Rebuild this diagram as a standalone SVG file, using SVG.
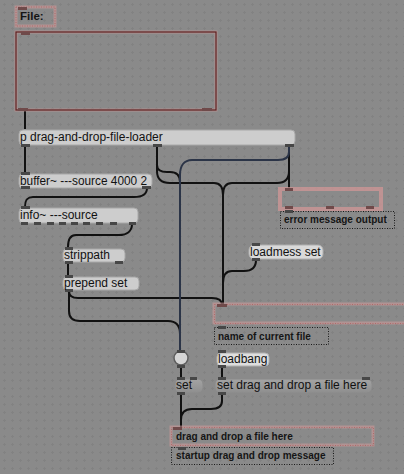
<svg xmlns="http://www.w3.org/2000/svg" width="404" height="474" viewBox="0 0 404 474">
<defs>
<pattern id="grid" width="8" height="8" patternUnits="userSpaceOnUse">
<rect width="8" height="8" fill="#8a8a8a"/>
<rect x="4" y="3" width="1" height="3" fill="#828282"/>
<rect x="3" y="4" width="3" height="1" fill="#828282"/>
</pattern>
<linearGradient id="msg" x1="0" y1="0" x2="0" y2="1">
<stop offset="0" stop-color="#a4a4a4"/>
<stop offset="1" stop-color="#8e8e8e"/>
</linearGradient>
<style>
.obj{fill:#cdcdcd;stroke:#a8a8a8;stroke-width:1}
.lite{fill:#d9d9d9;stroke:#b0b0b0;stroke-width:1}
.msg{fill:url(#msg);stroke:#8a8a8a;stroke-width:1}
.t{font-family:"Liberation Sans",Arial,sans-serif;font-size:12px;fill:#111}
.c{font-family:"Liberation Sans",Arial,sans-serif;font-size:10px;font-weight:bold;fill:#151515}
.tab{fill:#474747}
.ptab{fill:#6f4a4a}
.cmt{fill:none;stroke:#1a1a1a;stroke-width:1;stroke-dasharray:1 1.5}
.glow{fill:none;stroke:#d49a9a;stroke-width:3;opacity:.55}
.pdot{fill:none;stroke:#b06a6a;stroke-width:1;stroke-dasharray:1 1.5}
.wire{fill:none;stroke:#111;stroke-width:2}
.navy{fill:none;stroke:#2b3447;stroke-width:2}
</style>
</defs>
<rect width="404" height="474" fill="url(#grid)"/>

<g id="connectors">
<path class="wire" d="M25,111 V129"/>
<path class="wire" d="M25,146 V173"/>
<path class="wire" d="M147,188 C147,195 142,197 134,197 H33 C27,197 25,200 25,207"/>
<path class="wire" d="M132,224 C132,231 127,235 119,235 H76 C70,235 68,240 68,247"/>
<path class="wire" d="M68,263 V276"/>
<path class="wire" d="M69,291 C69,296 72,298 78,298 H212 C219,298 222,300 222,305"/>
<path class="wire" d="M69,291 V311 C69,318 73,321 80,321 H168 C176,321 180,326 180,334 V350"/>
<path class="wire" d="M157,146 V165 C157,170 161,172 167,172 H170 C176,172 180,175 180,182 V350"/>
<path class="wire" d="M157,146 V171 C157,179 161,183 170,183 H214 C220,183 223,187 223,195"/>
<path class="wire" d="M289,146 V171 C289,179 285,183 277,183 H232 C226,183 223,187 223,195"/>
<path class="wire" d="M223,194 V305"/>
<path class="wire" d="M256,260 C256,267 252,271 244,271 H232 C226,271 223,275 223,283"/>
<path class="wire" d="M289,146 V190"/>
<path class="wire" d="M181,366 V378"/>
<path class="wire" d="M222,366 V377"/>
<path class="wire" d="M181,394 V427"/>
<path class="wire" d="M222,394 V401 C222,407 218,409 211,409 H192 C185,409 181,413 181,420"/>
<path class="navy" d="M289,147 V152 C289,158 285,160 278,160 H192 C184,160 180,166 180,175 V351"/>
</g>

<g id="file-label">
<rect class="glow" x="16" y="7" width="39" height="19"/>
<rect class="pdot" x="16" y="7" width="39" height="19"/>
<rect class="ptab" x="18" y="7" width="9" height="3"/>
<text x="20" y="20" class="c" style="font-size:11.5px">File:</text>
</g>

<g id="dropfile">
<rect x="16" y="32" width="200" height="78" fill="none" stroke="#d49a9a" stroke-width="3" opacity=".5"/>
<rect x="16" y="32" width="200" height="78" fill="none" stroke="#5a1e1e" stroke-width="1.2"/>
<rect class="ptab" x="21" y="32" width="9" height="3"/>
<rect class="ptab" x="18" y="108" width="10" height="3"/>
<rect class="ptab" x="202" y="108" width="10" height="3"/>
</g>

<g id="p-loader">
<rect class="obj" x="19" y="130" width="276" height="15" rx="4"/>
<rect class="tab" x="21" y="144" width="9" height="3"/>
<rect class="tab" x="153" y="144" width="9" height="3"/>
<rect class="tab" x="285" y="144" width="9" height="3"/>
<text x="20" y="141" class="t">p drag-and-drop-file-loader</text>
</g>

<g id="buffer">
<rect class="obj" x="19" y="174" width="133" height="14" rx="4"/>
<rect class="tab" x="21" y="172" width="9" height="3"/>
<rect class="tab" x="21" y="186" width="9" height="3"/>
<rect class="tab" x="142" y="186" width="9" height="3"/>
<text x="20" y="184.5" class="t" textLength="127" lengthAdjust="spacingAndGlyphs">buffer~ ---source 4000 2</text>
</g>

<g id="info">
<rect class="obj" x="19" y="208" width="119" height="15" rx="4"/>
<rect class="tab" x="21" y="206" width="9" height="3"/>
<g class="tab">
<rect x="21" y="222" width="7" height="3"/><rect x="34" y="222" width="7" height="3"/>
<rect x="47" y="222" width="7" height="3"/><rect x="59" y="222" width="7" height="3"/>
<rect x="71" y="222" width="7" height="3"/><rect x="83" y="222" width="7" height="3"/>
<rect x="96" y="222" width="7" height="3"/><rect x="110" y="222" width="7" height="3"/>
<rect x="129" y="222" width="7" height="3"/>
</g>
<text x="20" y="219" class="t">info~ ---source</text>
</g>

<g id="strippath">
<rect class="obj" x="63" y="249" width="62" height="13" rx="4"/>
<rect class="tab" x="65" y="247" width="8" height="3"/>
<rect class="tab" x="65" y="261" width="8" height="3"/>
<rect class="tab" x="115" y="261" width="8" height="3"/>
<text x="64" y="259" class="t">strippath</text>
</g>

<g id="prepend">
<rect class="obj" x="63" y="277" width="76" height="13" rx="4"/>
<rect class="tab" x="65" y="275" width="8" height="3"/>
<rect class="tab" x="65" y="289" width="8" height="3"/>
<text x="64" y="287" class="t">prepend set</text>
</g>

<g id="error-out">
<rect x="280" y="189" width="101" height="20" fill="none" stroke="#d09595" stroke-width="4" opacity=".75"/>
<rect class="ptab" x="285" y="188" width="8" height="3"/>
<rect class="ptab" x="285" y="206" width="8" height="3"/>
<rect class="ptab" x="326" y="206" width="8" height="3"/>
<rect class="ptab" x="366" y="206" width="8" height="3"/>
</g>
<g id="error-comment">
<rect class="cmt" x="280.5" y="211.5" width="114" height="17"/>
<rect class="tab" x="285" y="210" width="8" height="3"/>
<text x="284" y="223" class="c">error message output</text>
</g>

<g id="loadmess">
<rect class="lite" x="249" y="245" width="74" height="14" rx="5"/>
<rect class="tab" x="252" y="243" width="8" height="3"/>
<rect class="tab" x="252" y="258" width="8" height="3"/>
<text x="250" y="256" class="t">loadmess set</text>
</g>

<g id="name-display">
<rect class="glow" x="214" y="304" width="200" height="19"/>
<rect class="pdot" x="214.5" y="304.5" width="200" height="19"/>
<rect class="ptab" x="217" y="304" width="10" height="3"/>
</g>
<g id="name-comment">
<rect class="cmt" x="214.5" y="327.5" width="114" height="17"/>
<rect class="tab" x="218" y="326" width="8" height="3"/>
<text x="218" y="340" class="c">name of current file</text>
</g>

<g id="button">
<circle cx="181" cy="358" r="7" fill="#d5d5d5" stroke="#5e5e5e" stroke-width="1.5"/>
<rect class="tab" x="177" y="350" width="8" height="3"/>
<rect class="tab" x="177" y="365" width="8" height="3"/>
</g>

<g id="loadbang">
<rect class="lite" x="217" y="353" width="52" height="13" rx="4" style="fill:#dedede"/>
<rect class="tab" x="218" y="350" width="8" height="3"/>
<rect class="tab" x="218" y="365" width="8" height="3"/>
<text x="218" y="363" class="t">loadbang</text>
</g>

<g id="set-msg">
<rect class="msg" x="175" y="379" width="28" height="14" rx="5"/>
<rect class="tab" x="177" y="377" width="8" height="3"/>
<rect class="tab" x="190" y="377" width="7" height="3"/>
<rect class="tab" x="177" y="392" width="8" height="3"/>
<text x="176" y="389" class="t">set</text>
</g>

<g id="set-drag-msg">
<rect class="msg" x="215" y="379" width="157" height="14" rx="5"/>
<rect class="tab" x="218" y="377" width="8" height="3"/>
<rect class="tab" x="362" y="377" width="8" height="3"/>
<rect class="tab" x="218" y="392" width="8" height="3"/>
<text x="217" y="389" class="t">set drag and drop a file here</text>
</g>

<g id="drag-display">
<rect class="glow" x="171" y="427" width="202" height="18"/>
<rect class="pdot" x="171.5" y="427.5" width="202" height="18"/>
<rect class="ptab" x="173" y="427" width="9" height="3"/>
<text x="176" y="440" class="c">drag and drop a file here</text>
</g>

<g id="startup-comment">
<rect class="cmt" x="171.5" y="447.5" width="162" height="17"/>
<rect class="tab" x="178" y="447" width="8" height="3"/>
<text x="176" y="459" class="c">startup drag and drop message</text>
</g>
</svg>
